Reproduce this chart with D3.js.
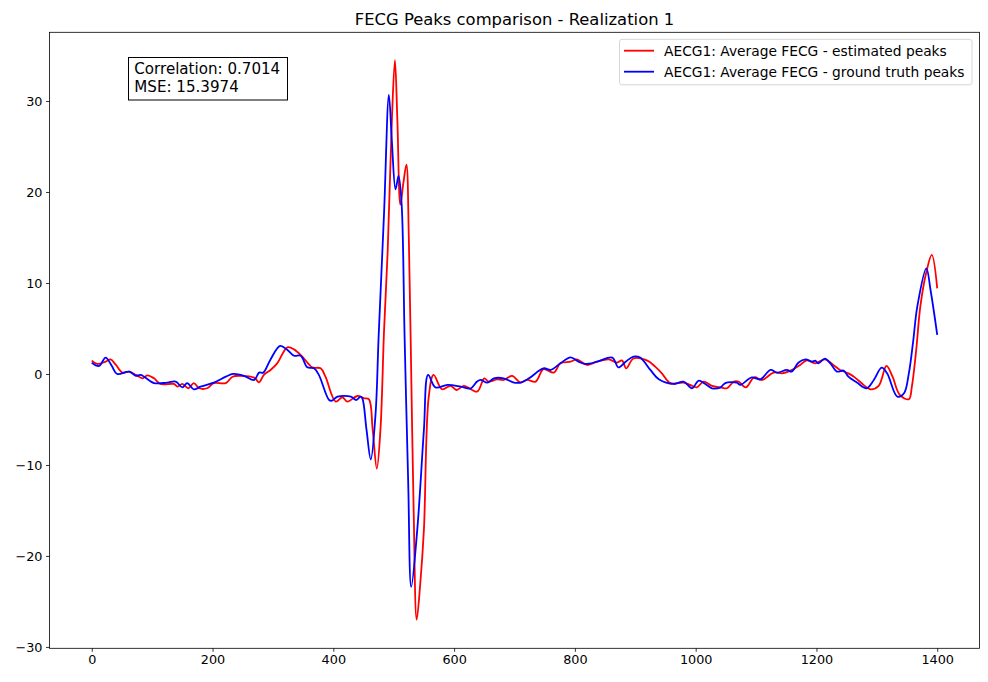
<!DOCTYPE html>
<html>
<head>
<meta charset="utf-8">
<script src="https://cdn.jsdelivr.net/npm/d3@7"></script>
<style>
  body { margin: 0; background: #fff; }
  svg { font-family: "DejaVu Sans", sans-serif; }
</style>
</head>
<body>
<div id="chart"></div>
<script>
// Data //
const estX = [0, 9, 23, 31, 40, 51, 62, 73, 84, 92, 103, 114, 136, 142, 150, 160, 169, 178, 191, 202,
  222, 233, 247, 269, 277, 285, 296, 307, 324, 335, 351, 365, 379, 387, 404, 415, 423, 440, 451, 459,
  465, 472, 478, 484, 490, 497, 502, 506, 511, 516, 521, 525, 528, 533, 538, 544, 550, 558, 566, 580,
  594, 604, 616, 638, 650, 657, 671, 682, 696, 710, 721, 735, 748, 765, 776, 793, 803, 820, 837, 856,
  870, 878, 885, 897, 920, 933, 944, 958, 980, 991, 1002, 1013, 1027, 1041, 1052, 1063, 1071, 1083, 1097, 1110,
  1129, 1143, 1157, 1173, 1184, 1198, 1214, 1228, 1239, 1253, 1264, 1278, 1289, 1303, 1316, 1326, 1338, 1353, 1358, 1365,
  1372, 1382, 1391, 1400];
const estY = [1.46, 1.1, 1.35, 1.6, 0.99, 0.15, 0.26, -0.1, -0.48, -0.15, -0.48, -1.1, -1.1, -1.39, -1.1, -1.57, -1.0, -1.57, -1.57, -1.0,
  -1.0, -0.3, -0.2, -0.4, -0.92, -0.1, 0.44, 1.17, 2.93, 2.7, 1.72, 0.73, 0.62, -0.3, -3.04, -2.56, -3.04, -2.42, -2.67, -2.8,
  -6.0, -10.4, -6.15, 4.8, 13.5, 28.0, 34.5, 28.0, 18.6, 21.0, 23.0, 15.0, 4.1, -15.0, -27.0, -23.0, -17.1, -2.49, -0.1, -1.68,
  -1.3, -1.76, -1.3, -1.94, -0.48, -0.84, -0.6, -0.66, -0.22, -0.95, -0.66, -0.84, 0.53, 0.15, 1.17, 1.35, 1.6, 0.99, 1.35, 1.6,
  1.25, 1.5, 0.62, 1.7, 1.46, 0.8, 0.07, -1.0, -0.95, -1.2, -1.47, -0.84, -1.3, -1.47, -1.57, -0.84, -0.84, -1.47, -0.37, -0.66,
  0.15, 0.07, 0.37, 0.99, 1.5, 1.17, 1.6, 0.99, 0.44, 0.07, -0.4, -1.2, -1.68, -1.3, 0.88, -0.3, -2.3, -2.78, -1.39, 2.5,
  7.4, 11.2, 13.08, 9.4];

const truthX = [0, 12, 23, 33, 42, 62, 73, 81, 103, 125, 139, 150, 158, 169, 180, 202, 222, 234, 252, 269,
  277, 284, 296, 312, 324, 335, 346, 357, 368, 376, 393, 398, 407, 429, 438, 445, 448, 455, 462, 470,
  475, 484, 492, 497, 503, 508, 513, 518, 524, 529, 539, 550, 557, 569, 589, 611, 627, 638, 644, 655,
  666, 682, 699, 710, 724, 748, 760, 776, 793, 806, 817, 837, 862, 872, 884, 897, 908, 925, 939, 964,
  980, 994, 1005, 1016, 1027, 1041, 1049, 1068, 1074, 1093, 1107, 1124, 1135, 1151, 1159, 1170, 1182, 1193, 1198, 1203,
  1214, 1223, 1234, 1245, 1253, 1267, 1283, 1295, 1308, 1317, 1334, 1345, 1353, 1360, 1367, 1382, 1389, 1400];
const truthY = [1.24, 0.88, 1.8, 0.9, 0, 0.26, -0.2, -0.1, -1.0, -0.95, -0.84, -1.47, -1.0, -1.7, -1.4, -0.95, -0.3, 0, -0.2, -0.66,
  0.15, 0.15, 1.6, 3.08, 2.64, 2.0, 2.0, 0.73, 0.62, -0.1, -2.86, -2.93, -2.49, -2.49, -2.86, -2.49, -2.67, -6.15, -9.4, -4.3,
  4.1, 17.7, 30.66, 25.5, 20.3, 21.76, 18.76, 4.1, -12.0, -23.4, -17.1, -6.15, -0.1, -1.47, -1.2, -1.39, -1.6, -0.84, -0.66, -0.95,
  -0.48, -0.48, -0.95, -0.95, -0.48, 0.62, 0.44, 1.17, 1.83, 1.35, 1.1, 1.35, 1.8, 0.73, 1.35, 1.9, 1.8, 0.44, -0.59, -1.1,
  -0.84, -1.57, -0.73, -1.1, -1.57, -1.47, -1.0, -0.95, -1.2, -0.37, -0.6, 0.44, 0.15, 0.44, 0.26, 1.24, 1.6, 1.35, 1.46, 1.17,
  1.68, 1.17, 0.26, 0.37, -0.3, -0.95, -1.57, -0.66, 0.7, 0.07, -2.49, -2.12, 0.07, 3.5, 7.4, 11.6, 9.2, 4.3];

const xTicks = [0, 200, 400, 600, 800, 1000, 1200, 1400];
const yTicks = [-30, -20, -10, 0, 10, 20, 30];
const seriesNames = ["AECG1: Average FECG - estimated peaks", "AECG1: Average FECG - ground truth peaks"];
const statLines = ["Correlation: 0.7014", "MSE: 15.3974"];
const chartTitle = "FECG Peaks comparison - Realization 1";

/* Canvas */
const W = 988, H = 682;
const plot = { left: 49.5, right: 979.5, top: 32.3, bottom: 648.3 };

const svg = d3.select("#chart").append("svg")
    .attr("width", W)
    .attr("height", H);

const xScale = d3.scaleLinear().domain([-70, 1470]).range([plot.left, plot.right]);
const yScale = d3.scaleLinear().domain([-30.15, 37.55]).range([plot.bottom, plot.top]);

// Axes
const xAxis = d3.axisBottom(xScale).tickValues(xTicks).tickSize(3.5).tickPadding(3.5).tickFormat(d3.format("d"));
const yAxis = d3.axisLeft(yScale).tickValues(yTicks).tickSize(3.5).tickPadding(3.5)
    .tickFormat(d => d < 0 ? "\u2212" + Math.abs(d) : d);

function styleAxis(g) {
    g.select(".domain").remove();
    g.selectAll("line").attr("stroke", "#000").attr("stroke-width", 0.8);
    g.selectAll("text")
        .attr("fill", "#000")
        .attr("font-family", "DejaVu Sans")
        .attr("font-size", "12.8px");
}

svg.append("g")
    .attr("transform", `translate(0,${plot.bottom})`)
    .call(xAxis)
    .call(styleAxis);

svg.append("g")
    .attr("transform", `translate(${plot.left},0)`)
    .call(yAxis)
    .call(styleAxis);

// Lines
const line = d3.line()
    .x(d => xScale(d[0]))
    .y(d => yScale(d[1]))
    .curve(d3.curveCatmullRom.alpha(0.5));

const estData = estX.map((x, i) => [x, estY[i]]);
const truthData = truthX.map((x, i) => [x, truthY[i]]);

svg.append("path")
    .datum(estData)
    .attr("fill", "none")
    .attr("stroke", "#ff0000")
    .attr("stroke-width", 1.8)
    .attr("stroke-linejoin", "round")
    .attr("d", line);

svg.append("path")
    .datum(truthData)
    .attr("fill", "none")
    .attr("stroke", "#0000ff")
    .attr("stroke-width", 1.8)
    .attr("stroke-linejoin", "round")
    .attr("d", line);

// Frame
svg.append("rect")
    .attr("x", plot.left)
    .attr("y", plot.top)
    .attr("width", plot.right - plot.left)
    .attr("height", plot.bottom - plot.top)
    .attr("fill", "none")
    .attr("stroke", "#000")
    .attr("stroke-width", 0.8);

// Title
svg.append("text")
    .attr("x", (plot.left + plot.right) / 2)
    .attr("y", 24.5)
    .attr("text-anchor", "middle")
    .attr("font-size", "16.4px")
    .text(chartTitle);

// Stats box
const stats = svg.append("g");
stats.append("rect")
    .attr("x", 128.5)
    .attr("y", 57.5)
    .attr("width", 159)
    .attr("height", 42.5)
    .attr("fill", "#fff")
    .attr("fill-opacity", 0.8)
    .attr("stroke", "#000")
    .attr("stroke-width", 1);
stats.selectAll("text")
    .data(statLines)
    .join("text")
    .attr("x", 134.3)
    .attr("y", (d, i) => 74.3 + i * 17.5)
    .attr("font-size", "15.1px")
    .text(d => d);

// Legend
const legend = svg.append("g");
legend.append("rect")
    .attr("x", 619.5)
    .attr("y", 39.3)
    .attr("width", 352.5)
    .attr("height", 45.5)
    .attr("rx", 2.5)
    .attr("fill", "#fff")
    .attr("fill-opacity", 0.8)
    .attr("stroke", "#cccccc")
    .attr("stroke-width", 0.8);

const colors = ["#ff0000", "#0000ff"];
seriesNames.forEach((name, i) => {
    const cy = 50.7 + i * 21;
    legend.append("line")
        .attr("x1", 624).attr("x2", 654)
        .attr("y1", cy).attr("y2", cy)
        .attr("stroke", colors[i])
        .attr("stroke-width", 1.8);
    legend.append("text")
        .attr("x", 664)
        .attr("y", cy + 5)
        .attr("font-size", "13.8px")
        .text(name);
});
</script>
</body>
</html>
